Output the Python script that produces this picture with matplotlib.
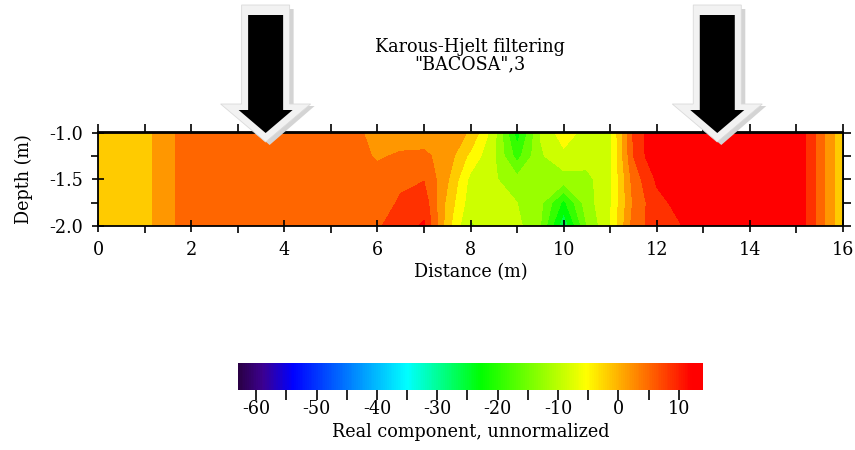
import numpy as np
import matplotlib
matplotlib.use("Agg")
import matplotlib.pyplot as plt
from matplotlib.colors import LinearSegmentedColormap, Normalize
from matplotlib.patches import Polygon
from matplotlib.cm import ScalarMappable
from matplotlib.ticker import MultipleLocator

# ---------------- data ----------------
distance = np.arange(0, 16.01, 0.5)          # 33 columns (m)
depth = [-1.0, -1.25, -1.5, -1.75, -2.0]     # rows (m)

#            0    .5    1    1.5   2    2.5   3   3.5   4   4.5   5   5.5   6    6.5   7    7.5   8     8.5    9    9.5    10    10.5  11   11.5  12   12.5  13    13.5  14    14.5  15   15.5  16
row_100 = [-2, -2, -1.5, 2.8, 5, 5, 5, 5, 5, 5, 5, 4.5, 2.0, 1.5, 1.5, 1.5, -0.3, -9, -23, -10.3, -5, -8.5, -8, 7.5, 14, 13.5, 13.5, 13.5, 13.5, 13.5, 14, 5.25, -3.0]
row_125 = [-2, -2, -1.5, 2.8, 5, 5, 5, 5, 5, 5, 5, 5.0, 3.0, 4.0, 4.2, 2.0, -4.5, -10, -19, -11, -8, -9, -8, 7.0, 14, 13.5, 13.5, 13.5, 13.5, 13.5, 14, 5.25, -3.0]
row_150 = [-2, -2, -1.5, 2.8, 5, 5, 5, 5, 5, 5, 5, 5.0, 5.0, 6.2, 6.8, 0.5, -8, -10, -13, -12, -12, -11.5, -8, 5.0, 11, 13.5, 13.5, 13.5, 13.5, 13.5, 14, 5.25, -3.0]
row_175 = [-2, -2, -1.5, 2.8, 5, 5, 5, 5, 5, 5, 5, 5.0, 5.0, 7.5, 9.0, -1.0, -9, -9.5, -10.5, -13, -22, -12, -7.5, 4.0, 9.5, 11.5, 13.5, 13.5, 13.5, 13.5, 14, 5.25, -3.0]
row_200 = [-2, -2, -1.5, 2.8, 5, 5, 5, 5, 5, 5, 5, 5.0, 6.5, 9.0, 11.0, -2.0, -11, -9, -9.5, -14, -27.5, -14, -7, 5.0, 9, 10.3, 13, 13.5, 13.5, 13.5, 14, 5.25, -3.0]

x_ticks = [0, 2, 4, 6, 8, 10, 12, 14, 16]
y_ticks = [-1.0, -1.5, -2.0]
cbar_ticks = [-60, -50, -40, -30, -20, -10, 0, 10]
value_min, value_max = -63, 14
arrow_x = [3.6, 13.3]   # arrow positions (m)

title_text = 'Karous-Hjelt filtering\n"BACOSA",3'
xlabel_text = "Distance (m)"
ylabel_text = "Depth (m)"
cbar_label_text = "Real component, unnormalized"

# colour map anchors
cmap_values = [-63, -59, -54, -35, -22.75, -5.25, 12.25, 14]
cmap_colors = ["#2a0045", "#3c0090", "#0000ff", "#00ffff", "#00ff00", "#ffff00", "#ff0000", "#ff0000"]

# ---------------- style ----------------
plt.rcParams["font.family"] = ["DejaVu Serif"]
plt.rcParams["font.stretch"] = "condensed"
plt.rcParams["axes.unicode_minus"] = False
FS = 14

W, H = 855, 450
fig = plt.figure(figsize=(W / 100, H / 100), dpi=100)

pos = [(cmap_values[i] - value_min) / (value_max - value_min) for i in range(len(cmap_values))]
cmap = LinearSegmentedColormap.from_list("kh", list(zip(pos, cmap_colors)))
norm = Normalize(vmin=value_min, vmax=value_max)

ax = fig.add_axes([98 / W, 1 - 226 / H, 745 / W, 93.5 / H])
values = np.array([row_100, row_125, row_150, row_175, row_200])
levels = np.arange(value_min, value_max + 0.01, 3.5)
ax.contourf(distance, depth, values, levels=levels, cmap=cmap, norm=norm)

ax.set_xlim(0, 16)
ax.set_ylim(-2.0, -1.0)
ax.set_xticks(x_ticks)
ax.set_yticks(y_ticks)
ax.set_yticklabels([f"{v:.1f}" for v in y_ticks])
ax.xaxis.set_minor_locator(MultipleLocator(1))
ax.yaxis.set_minor_locator(MultipleLocator(0.25))
ax.tick_params(which="major", direction="inout", length=9, width=1.2, labelsize=FS,
               top=False, right=False)
ax.tick_params(which="minor", direction="out", length=5, width=1.2, top=False, right=False)
ax.tick_params(axis="x", which="major", pad=6)
ax.tick_params(axis="y", which="major", pad=6)
for s in ax.spines.values():
    s.set_linewidth(1.3)

secx = ax.secondary_xaxis("top")
secx.set_xticks(np.arange(0, 16.01, 1))
secx.tick_params(direction="out", length=6, width=1.2, labeltop=False)
secx.spines["top"].set_linewidth(1.3)
secy = ax.secondary_yaxis("right")
secy.set_yticks(np.arange(-2.0, -0.99, 0.25))
secy.tick_params(direction="out", length=6, width=1.2, labelright=False)
secy.spines["right"].set_linewidth(1.3)

ax.set_xlabel(xlabel_text, fontsize=FS, labelpad=3)
ax.set_ylabel(ylabel_text, fontsize=FS, labelpad=12)

fig.text(470 / W, 1 - 56 / H, title_text, ha="center", va="center",
         fontsize=FS, linespacing=0.95, multialignment="center")

# colour bar
cax = fig.add_axes([238 / W, 1 - 390 / H, 465 / W, 27 / H])
sm = ScalarMappable(norm=norm, cmap=cmap)
cb = fig.colorbar(sm, cax=cax, orientation="horizontal")
cb.outline.set_visible(False)
cb.set_ticks(cbar_ticks)
cb.set_ticklabels([str(t) for t in cbar_ticks])
cax.xaxis.set_minor_locator(MultipleLocator(5))
cax.tick_params(which="both", direction="out", length=7, width=1.2, labelsize=FS, pad=0)
cb.set_label(cbar_label_text, fontsize=FS, labelpad=4)

# arrows (pixel geometry relative to arrow centre, image y downward)
def arrow_poly(cx, half_shaft, top, head_base, half_head, tip):
    pts = [(cx - half_shaft, top), (cx + half_shaft, top), (cx + half_shaft, head_base),
           (cx + half_head, head_base), (cx, tip), (cx - half_head, head_base),
           (cx - half_shaft, head_base)]
    return [(px / W, 1 - py / H) for px, py in pts]

fig.canvas.draw()
for xa in arrow_x:
    cx = ax.transData.transform((xa, -1.5))[0]
    shadow = Polygon(arrow_poly(cx + 4, 24, 9, 106, 45, 145), closed=True,
                     transform=fig.transFigure, facecolor="#d4d4d4", edgecolor="none", zorder=5)
    outline = Polygon(arrow_poly(cx, 24, 5, 104, 45, 142), closed=True,
                      transform=fig.transFigure, facecolor="#f2f2f2", edgecolor="#dadada",
                      linewidth=0.6, zorder=6)
    inner = Polygon(arrow_poly(cx, 17.5, 15, 110, 27, 133), closed=True,
                    transform=fig.transFigure, facecolor="black", edgecolor="none", zorder=7)
    for p in (shadow, outline, inner):
        fig.add_artist(p)

fig.savefig("out.png", dpi=100)
